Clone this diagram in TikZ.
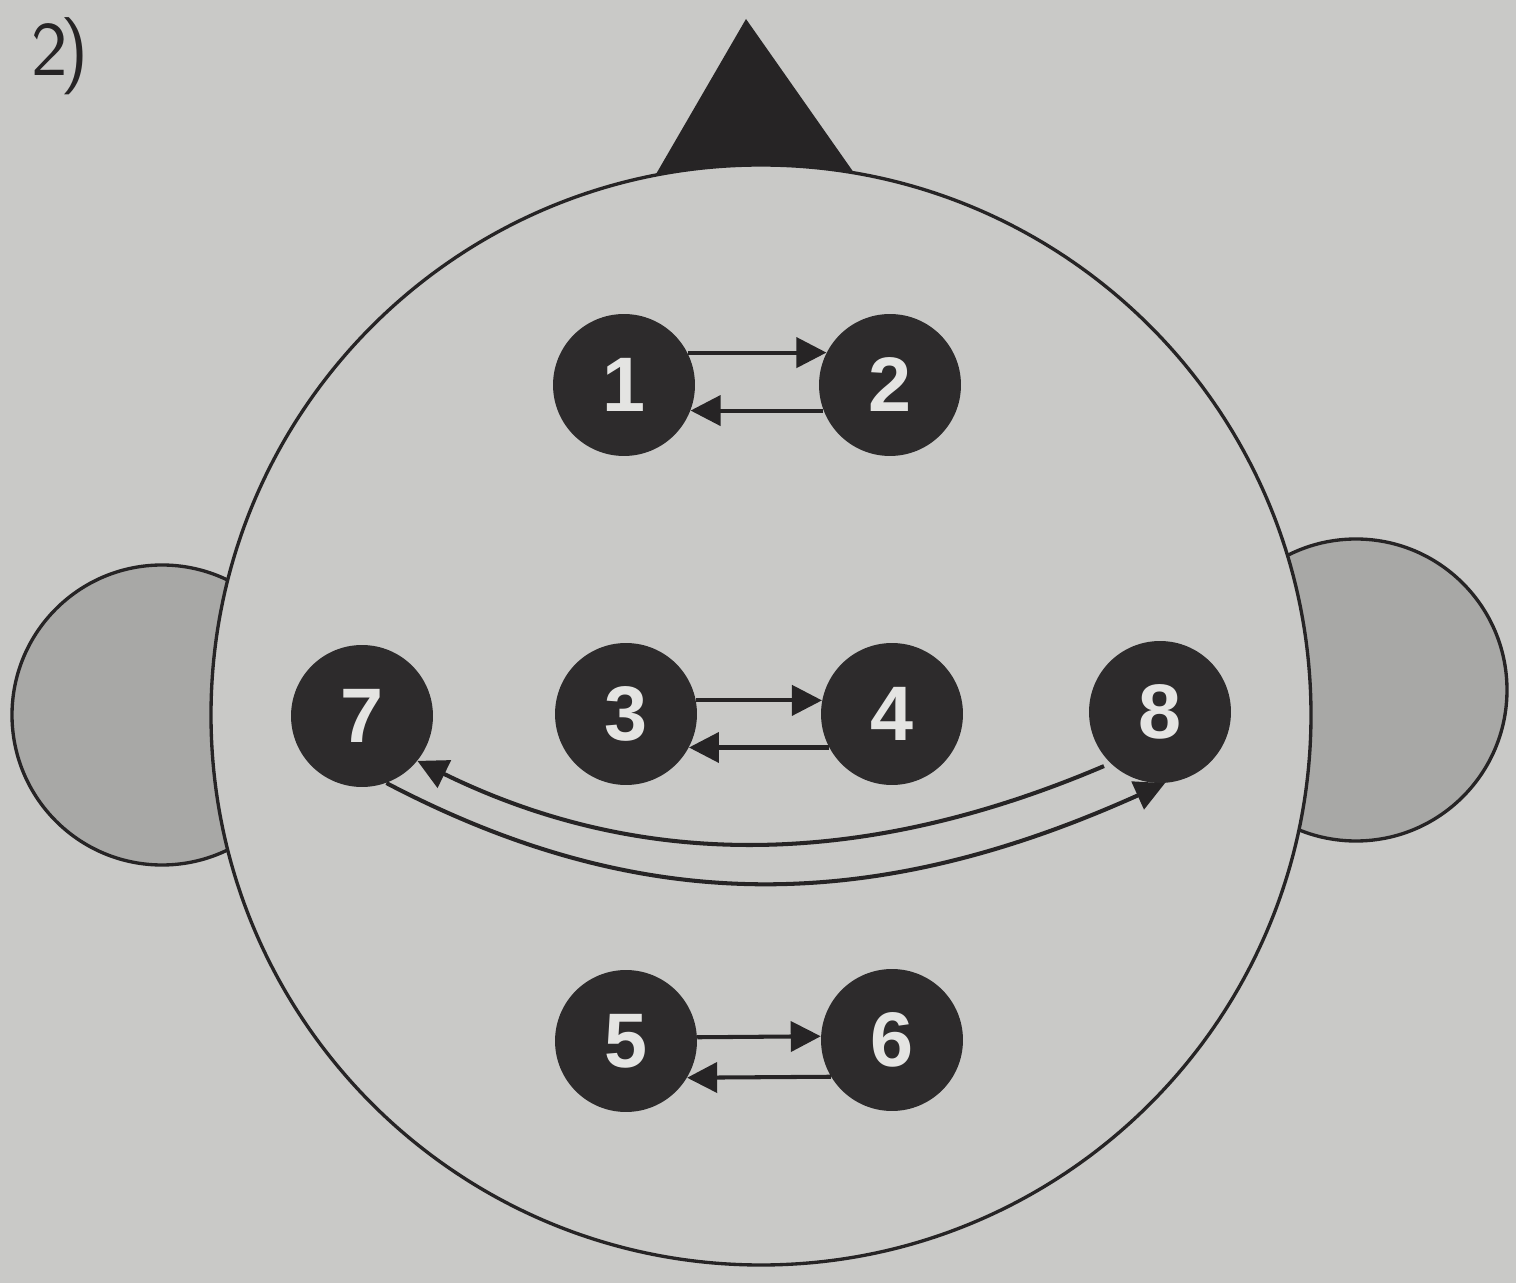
\documentclass[tikz,border=0pt]{standalone}
\usepackage{fontspec}
\newfontfamily\digitfont{Liberation Sans}
\usetikzlibrary{arrows.meta}
\definecolor{paper}{HTML}{C9C9C7}
\definecolor{earfill}{HTML}{A8A8A6}
\definecolor{electrode}{HTML}{2D2B2C}
\definecolor{ink}{HTML}{262425}
\definecolor{digit}{HTML}{E4E4E2}
\tikzset{
  electrodebox/.style={circle, fill=electrode, minimum size=2.84cm, inner sep=0pt,
    text=digit, font=\digitfont\bfseries\fontsize{44}{44}\selectfont},
  link/.style={draw=ink, line width=2.3pt, -{Triangle[length=0.6cm,width=0.6cm]}},
  outline/.style={draw=ink, line width=1.9pt}
}
\begin{document}
\begin{tikzpicture}[x=0.02cm, y=-0.02cm]
\fill[paper] (0,0) rectangle (1516,1283);
\useasboundingbox (0,0) rectangle (1516,1283);
% label
\node[text=ink, font=\sffamily\fontsize{44}{44}\selectfont] (lab) at (60,56) {2\kern-4pt)};
% ears
\draw[outline, fill=earfill] (162,715) circle[radius=150];
\draw[outline, fill=earfill] (1356,690) circle[radius=151];
% nose
\fill[ink] (746,19) -- (873,200) -- (641,200) -- cycle;
% head
\draw[outline, fill=paper] (761,715) circle[radius=550];
% electrodes
\node[electrodebox] (n1) at (624,385) {1};
\node[electrodebox] (n2) at (890,385) {2};
\node[electrodebox] (n3) at (626,714) {3};
\node[electrodebox] (n4) at (892,714) {4};
\node[electrodebox] (n7) at (362,716) {7};
\node[electrodebox] (n8) at (1160,712) {8};
\node[electrodebox] (n5) at (626,1041) {5};
\node[electrodebox] (n6) at (892,1040) {6};
% straight links
\draw[link] (n1.27) -- (n2.153);
\draw[link] (n2.201) -- (n1.-21);
\draw[link] (n3.11) -- (n4.169);
\draw[link] (n4.208) -- (n3.-28);
\draw[link] (n5.3) -- (n6.177);
\draw[link] (n6.211) -- (n5.-31);
% curved links
\draw[link, shorten <=4pt] (n8.-134) .. controls (860,870) and (640,870) .. (n7.-39);
\draw[link] (n7.-70) .. controls (640,916) and (870,916) .. (n8.-86);
\end{tikzpicture}
\end{document}
